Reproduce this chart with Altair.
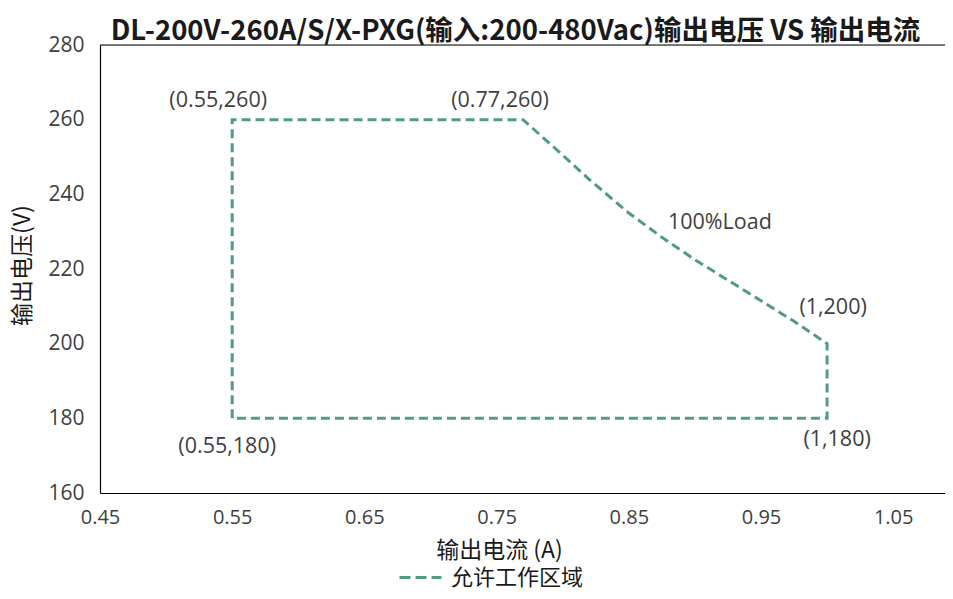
import altair as alt
import pandas as pd

# Boundary of the allowed operating area (current A, voltage V)
current_a = [0.55, 0.55, 0.77, 0.80, 0.82, 0.85, 0.875, 0.90, 0.925, 0.95, 0.975, 1.00, 1.00, 0.55]
voltage_v = [180, 260, 260, 250.5, 244, 235, 228.5, 222.5, 217, 211.5, 206, 200, 180, 180]
series_name = "允许工作区域"

x_ticks = [0.45, 0.55, 0.65, 0.75, 0.85, 0.95, 1.05]
y_ticks = [160, 180, 200, 220, 240, 260, 280]

ann_labels = ["(0.55,260)", "(0.77,260)", "100%Load", "(1,200)", "(0.55,180)", "(1,180)"]
ann_x = [0.55, 0.77, 0.875, 1.00, 0.55, 1.00]
ann_y = [260, 260, 228.5, 200, 180, 180]
ann_dx = [-14, -23, 58, 6, -5, 10]
ann_dy = [-19, -19, -14, -36, 29, 22]

title_text = "DL-200V-260A/S/X-PXG(输入:200-480Vac)输出电压 VS 输出电流"

line_color = "#4f9b83"
text_color = "#404040"
W, H = 845, 448

df = pd.DataFrame({
    "order": list(range(len(current_a))),
    "I": current_a,
    "V": voltage_v,
    "series": [series_name] * len(current_a),
})

x_scale = alt.Scale(domain=[0.45, 1.0892], nice=False, zero=False)
y_scale = alt.Scale(domain=[160, 280], nice=False, zero=False)

x_axis = alt.Axis(
    values=x_ticks, format=".2f", grid=False, ticks=False,
    domainColor="#000000", domainWidth=1.2,
    labelFont="Open Sans", labelFontSize=20, labelColor=text_color, labelPadding=14,
    labelFlush=False, labelOverlap=False,
    title="输出电流 (A)", titleFont="Noto Sans CJK SC", titleFontSize=23,
    titleFontWeight="normal", titleColor="#1a1a1a",
    titleX=399, titleY=57, titleBaseline="middle",
)
y_axis = alt.Axis(
    values=y_ticks, grid=False, ticks=False,
    domainColor="#000000", domainWidth=1.2,
    labelFont="Open Sans", labelFontSize=21, labelColor=text_color, labelPadding=16,
    labelFlush=False, labelOverlap=False,
    title="输出电压(V)", titleFont="Noto Sans CJK SC", titleFontSize=23,
    titleFontWeight="normal", titleColor="#1a1a1a",
    titleX=-78, titleY=220, titleAngle=270, titleBaseline="middle", titleAlign="center",
)

line = alt.Chart(df).mark_line(strokeWidth=3, strokeDash=[9, 5]).encode(
    x=alt.X("I:Q", scale=x_scale, axis=x_axis),
    y=alt.Y("V:Q", scale=y_scale, axis=y_axis),
    order="order:O",
    color=alt.Color(
        "series:N",
        scale=alt.Scale(domain=[series_name], range=[line_color]),
        legend=alt.Legend(
            title=None, orient="none", legendX=298, legendY=510,
            symbolType="stroke", symbolStrokeWidth=3, symbolDash=[11, 5], symbolSize=1764,
            labelFont="Noto Sans CJK SC", labelFontSize=22, labelColor="#1a1a1a",
            labelOffset=8,
        ),
    ),
)

top_border = alt.Chart(pd.DataFrame({"y": [280]})).mark_rule(color="#000000", strokeWidth=1.2).encode(
    y=alt.Y("y:Q", scale=y_scale),
    x=alt.value(0),
    x2=alt.value(W),
)

ann_df = pd.DataFrame({"label": ann_labels, "I": ann_x, "V": ann_y})
ann_layers = []
for i in range(len(ann_labels)):
    ann_layers.append(
        alt.Chart(ann_df.iloc[[i]]).mark_text(
            font="Open Sans", fontSize=21.5, color=text_color,
            dx=ann_dx[i], dy=ann_dy[i], align="center", baseline="middle",
        ).encode(
            x=alt.X("I:Q", scale=x_scale),
            y=alt.Y("V:Q", scale=y_scale),
            text="label:N",
        )
    )

chart = alt.layer(top_border, line, *ann_layers).properties(
    width=W,
    height=H,
    autosize=alt.AutoSizeParams(type="none"),
    padding={"left": 92, "top": 37, "right": 0, "bottom": 98},
    title=alt.TitleParams(
        title_text, font="Noto Sans CJK SC", fontSize=27.5, fontWeight="bold",
        color="#1a1a1a", anchor="middle", dx=-7, dy=17, offset=6,
    ),
).configure_view(strokeWidth=0, stroke="transparent").configure(background="white")

chart.save("out.html", embed_options={"renderer": "svg", "actions": False})
